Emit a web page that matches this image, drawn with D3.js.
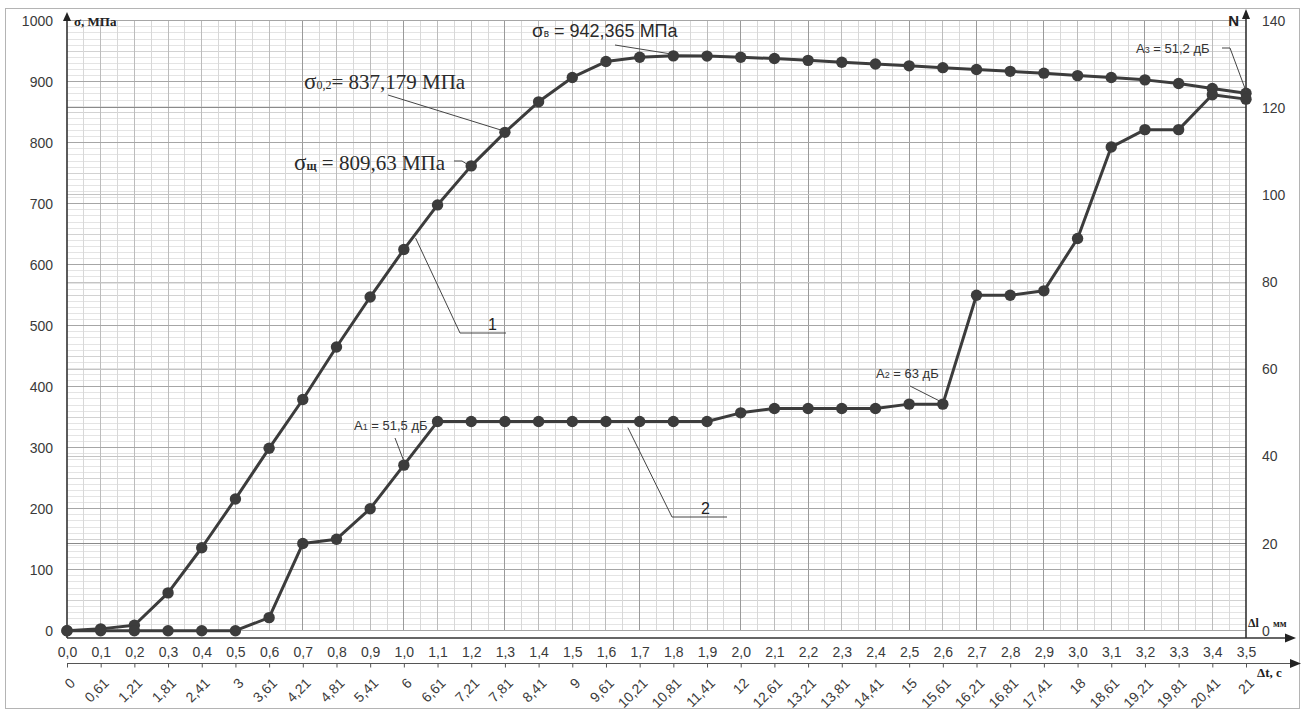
<!DOCTYPE html>
<html>
<head>
<meta charset="utf-8">
<script src="https://cdn.jsdelivr.net/npm/d3@7"></script>
<style>
  html, body { margin: 0; padding: 0; background: #fff; }
  svg { display: block; }
</style>
</head>
<body>
<svg id="chart" width="1305" height="711"></svg>
<script>
// Elongation Δl0, mm (category positions along the lower axis)
const elongation = [0.0, 0.1, 0.2, 0.3, 0.4, 0.5, 0.6, 0.7, 0.8, 0.9,
                    1.0, 1.1, 1.2, 1.3, 1.4, 1.5, 1.6, 1.7, 1.8, 1.9,
                    2.0, 2.1, 2.2, 2.3, 2.4, 2.5, 2.6, 2.7, 2.8, 2.9,
                    3.0, 3.1, 3.2, 3.3, 3.4, 3.5];

// Curve 1: stress σ, MPa
const stressMPa = [0, 3, 9, 62, 136, 216, 299, 379, 465, 547,
                   625, 698, 762, 817, 867, 907, 933, 940, 942.365, 942,
                   940, 938, 935, 932, 929, 926, 923, 920, 917, 914,
                   910, 907, 903, 897, 889, 881];

// Curve 2: accumulated acoustic-emission count N
const emissionCount = [0, 0, 0, 0, 0, 0, 3, 20, 21, 28,
                       38, 48, 48, 48, 48, 48, 48, 48, 48, 48,
                       50, 51, 51, 51, 51, 52, 52, 77, 77, 78,
                       90, 111, 115, 115, 123, 122];

// Tick labels
const elongationLabels = ["0,0","0,1","0,2","0,3","0,4","0,5","0,6","0,7","0,8","0,9",
                          "1,0","1,1","1,2","1,3","1,4","1,5","1,6","1,7","1,8","1,9",
                          "2,0","2,1","2,2","2,3","2,4","2,5","2,6","2,7","2,8","2,9",
                          "3,0","3,1","3,2","3,3","3,4","3,5"];
const timeLabels = ["0","0,61","1,21","1,81","2,41","3","3,61","4,21","4,81","5,41",
                    "6","6,61","7,21","7,81","8,41","9","9,61","10,21","10,81","11,41",
                    "12","12,61","13,21","13,81","14,41","15","15,61","16,21","16,81","17,41",
                    "18","18,61","19,21","19,81","20,41","21"];
const stressTicks = [0, 100, 200, 300, 400, 500, 600, 700, 800, 900, 1000];
const countTicks = [0, 20, 40, 60, 80, 100, 120, 140];

// Graph-paper lines that print darker
const strongColumns = [0.7, 1.0, 1.3, 1.7, 2.0, 2.2, 2.5, 2.7, 2.9, 3.2];
const strongCountRows = [20, 120];

const svg = d3.select("#chart");
const INK = "#3c3c3c";
const SANS = "'Liberation Sans', Arial, sans-serif";
const SERIF = "'Liberation Serif', 'Times New Roman', serif";

const x = d3.scaleLinear().domain([0, 3.5]).range([67, 1246]);
const yS = d3.scaleLinear().domain([0, 1000]).range([630.7, 20.7]);
const yN = d3.scaleLinear().domain([0, 140]).range([630.7, 20.7]);

const rows = elongation.map((dl, i) => ({ dl, s: stressMPa[i], n: emissionCount[i] }));

// outer frame
svg.append("rect").attr("x", 5.5).attr("y", 8.5).attr("width", 1294).attr("height", 700)
  .attr("fill", "none").attr("stroke", "#b4b4b4").attr("stroke-width", 1);

// ---------- grid ----------
const grid = svg.append("g").attr("shape-rendering", "crispEdges");
const [x0, x1] = x.range();
const [yb, yt] = yS.range();

const fineRows = d3.range(10, 1000, 10).filter(v => v % 50 !== 0);
grid.selectAll(".fine-h").data(fineRows).join("line")
  .attr("x1", x0).attr("x2", x1).attr("y1", d => yS(d)).attr("y2", d => yS(d))
  .attr("stroke", "#e4e4e4");
grid.selectAll(".half-h").data(d3.range(50, 1000, 100)).join("line")
  .attr("x1", x0).attr("x2", x1).attr("y1", d => yS(d)).attr("y2", d => yS(d))
  .attr("stroke", "#d2d2d2");

const fineCols = d3.range(1, 70, 2).map(i => i * 0.05);
grid.selectAll(".fine-v").data(fineCols).join("line")
  .attr("x1", d => x(d)).attr("x2", d => x(d)).attr("y1", yt).attr("y2", yb)
  .attr("stroke", "#d8d8d8");
grid.selectAll(".mid-v").data(elongation.slice(1, -1)).join("line")
  .attr("x1", d => x(d)).attr("x2", d => x(d)).attr("y1", yt).attr("y2", yb)
  .attr("stroke", "#bcbcbc");
grid.selectAll(".strong-v").data(strongColumns).join("line")
  .attr("x1", d => x(d)).attr("x2", d => x(d)).attr("y1", yt).attr("y2", yb)
  .attr("stroke", "#9a9a9a");

grid.selectAll(".n-h").data(countTicks.slice(1, -1)).join("line")
  .attr("x1", x0).attr("x2", x1).attr("y1", d => yN(d)).attr("y2", d => yN(d))
  .attr("stroke", d => strongCountRows.includes(d) ? "#8a8a8a" : "#c4c4c4");
grid.selectAll(".s-h").data(stressTicks).join("line")
  .attr("x1", x0).attr("x2", x1).attr("y1", d => yS(d)).attr("y2", d => yS(d))
  .attr("stroke", "#a6a6a6");

// ---------- axes ----------
const leftAxis = svg.append("g").attr("transform", `translate(${x0},0)`)
  .call(d3.axisLeft(yS).tickValues(stressTicks).tickSize(0).tickPadding(14).tickFormat(d3.format("d")));
const rightAxis = svg.append("g").attr("transform", `translate(${x1},0)`)
  .call(d3.axisRight(yN).tickValues(countTicks).tickSize(0).tickPadding(16).tickFormat(d3.format("d")));

const dlAxisY = 638;
const tAxisY = 663.5;
const dlAxis = svg.append("g").attr("transform", `translate(0,${dlAxisY})`)
  .call(d3.axisBottom(x).tickValues(elongation).tickSize(0).tickPadding(9)
    .tickFormat((d, i) => elongationLabels[i]));
const tAxis = svg.append("g").attr("transform", `translate(0,${tAxisY})`)
  .call(d3.axisBottom(x).tickValues(elongation).tickSize(4).tickFormat((d, i) => timeLabels[i]));

[leftAxis, rightAxis, dlAxis, tAxis].forEach(g => {
  g.select(".domain").remove();
  g.selectAll("text").attr("font-family", SANS).attr("font-size", 14).attr("fill", "#3a3a3a");
});
tAxis.selectAll(".tick line").attr("stroke", "#555");
tAxis.selectAll(".tick text")
  .attr("text-anchor", "end").attr("dy", "0.35em")
  .attr("transform", "translate(5,17) rotate(-45)").attr("y", 0).attr("x", 0);

// axis lines with arrow heads
const axes = svg.append("g").attr("stroke", "#333").attr("stroke-width", 1.6).attr("fill", "none");
axes.append("line").attr("x1", x0).attr("x2", x0).attr("y1", 18).attr("y2", dlAxisY);
axes.append("line").attr("x1", x1).attr("x2", x1).attr("y1", 16).attr("y2", dlAxisY);
axes.append("line").attr("x1", x0).attr("x2", 1288).attr("y1", dlAxisY).attr("y2", dlAxisY);
axes.append("line").attr("x1", x0).attr("x2", 1292).attr("y1", tAxisY).attr("y2", tAxisY)
  .attr("stroke", "#555").attr("stroke-width", 1.2);
const heads = svg.append("g").attr("fill", "#222");
heads.append("path").attr("d", `M${x0},12 L${x0 - 4},21 L${x0 + 4},21 Z`);
heads.append("path").attr("d", `M${x1},9 L${x1 - 4},19 L${x1 + 4},19 Z`);
heads.append("path").attr("d", `M1296,${dlAxisY} L1285,${dlAxisY - 4.5} L1285,${dlAxisY + 4.5} Z`);
heads.append("path").attr("d", `M1301,${tAxisY} L1290,${tAxisY - 4.5} L1290,${tAxisY + 4.5} Z`);

// axis titles
svg.append("text").attr("x", 74).attr("y", 26).attr("font-family", SERIF).attr("font-weight", "bold")
  .attr("font-size", 13).attr("fill", "#222").text("σ, МПа");
svg.append("text").attr("x", 1239).attr("y", 26).attr("text-anchor", "end").attr("font-family", SANS)
  .attr("font-weight", "bold").attr("font-size", 15).attr("fill", "#222").text("N");
// Δl title around the right axis zero label, which sits between its two parts
svg.append("text").attr("x", 1248).attr("y", 627).attr("font-family", SERIF)
  .attr("font-weight", "bold").attr("font-size", 12).attr("fill", "#222").text("Δl");
svg.append("text").attr("x", 1273).attr("y", 627).attr("font-family", SERIF)
  .attr("font-weight", "bold").attr("font-size", 10).attr("fill", "#222").text("мм");
svg.append("text").attr("x", 1257).attr("y", 677).attr("font-family", SERIF).attr("font-weight", "bold")
  .attr("font-size", 13).attr("fill", "#222").text("Δt, c");

// ---------- series ----------
const series = svg.append("g");
const lineS = d3.line().x(d => x(d.dl)).y(d => yS(d.s));
const lineN = d3.line().x(d => x(d.dl)).y(d => yN(d.n));
series.append("path").datum(rows).attr("d", lineS).attr("fill", "none")
  .attr("stroke", INK).attr("stroke-width", 3).attr("stroke-linejoin", "round");
series.append("path").datum(rows).attr("d", lineN).attr("fill", "none")
  .attr("stroke", INK).attr("stroke-width", 3).attr("stroke-linejoin", "round");
series.selectAll(".ms").data(rows).join("circle")
  .attr("cx", d => x(d.dl)).attr("cy", d => yS(d.s)).attr("r", 5.7).attr("fill", INK);
series.selectAll(".mn").data(rows).join("circle")
  .attr("cx", d => x(d.dl)).attr("cy", d => yN(d.n)).attr("r", 5.7).attr("fill", INK);

// ---------- annotations ----------
const notes = svg.append("g");
const leader = pts => notes.append("polyline").attr("points", pts.map(p => p.join(",")).join(" "))
  .attr("fill", "none").attr("stroke", "#444").attr("stroke-width", 1);
const at = (i, key) => key === "s" ? [x(elongation[i]), yS(stressMPa[i])] : [x(elongation[i]), yN(emissionCount[i])];

// σв — ultimate strength at the peak point
const pB = at(18, "s");
leader([[615, 45], [pB[0] - 3, pB[1] - 2]]);
const tB = notes.append("text").attr("x", 532).attr("y", 37).attr("font-family", SANS)
  .attr("font-size", 18).attr("fill", "#2a2a2a");
tB.append("tspan").attr("font-size", 19).text("σ");
tB.append("tspan").attr("font-size", 10).text("в");
tB.append("tspan").text(" = 942,365 МПа");

// σ0,2 — proof stress
const p02 = at(13, "s");
leader([[388, 95], [p02[0] - 3, p02[1] - 2]]);
const t02 = notes.append("text").attr("x", 304).attr("y", 89).attr("font-family", SERIF)
  .attr("font-size", 21).attr("fill", "#2a2a2a");
t02.append("tspan").attr("font-size", 23).text("σ");
t02.append("tspan").attr("font-size", 12).text("0,2");
t02.append("tspan").text("= 837,179  МПа");

// σщ
const pSh = at(12, "s");
leader([[454, 161], [462, 161], [pSh[0] - 3, pSh[1] - 1]]);
const tSh = notes.append("text").attr("x", 294).attr("y", 170).attr("font-family", SERIF)
  .attr("font-size", 21).attr("fill", "#2a2a2a");
tSh.append("tspan").attr("font-size", 23).text("σ");
tSh.append("tspan").attr("font-size", 12).attr("font-weight", "bold").text("щ");
tSh.append("tspan").text(" = 809,63  МПа");

// curve numbers
leader([[x(1.035), yS(650) + 4], [460, 333], [506, 333]]);
notes.append("text").attr("x", 488).attr("y", 330).attr("font-family", SANS).attr("font-size", 16)
  .attr("fill", "#222").text("1");
leader([[x(1.665), yN(48) + 6], [672, 517], [727, 517]]);
notes.append("text").attr("x", 701).attr("y", 514).attr("font-family", SANS).attr("font-size", 16)
  .attr("fill", "#222").text("2");

// acoustic amplitudes
const ampNote = (tx, ty, sub, rest) => {
  const t = notes.append("text").attr("x", tx).attr("y", ty).attr("font-family", SANS)
    .attr("font-size", 13).attr("fill", "#333");
  t.append("tspan").text("А");
  t.append("tspan").attr("font-size", 9).text(sub);
  t.append("tspan").text(rest);
};
const pA1 = at(10, "n");
leader([[395, 438], [pA1[0], pA1[1] - 4]]);
ampNote(354, 430, "1", " = 51,5 дБ");
const pA2 = at(26, "n");
leader([[910, 386], [pA2[0] - 3, pA2[1] - 3]]);
ampNote(876, 378, "2", " = 63 дБ");
const pA3 = at(35, "n");
leader([[1222, 48], [1230, 48], [pA3[0], pA3[1] - 8]]);
ampNote(1136, 53, "3", " = 51,2 дБ");
</script>
</body>
</html>
